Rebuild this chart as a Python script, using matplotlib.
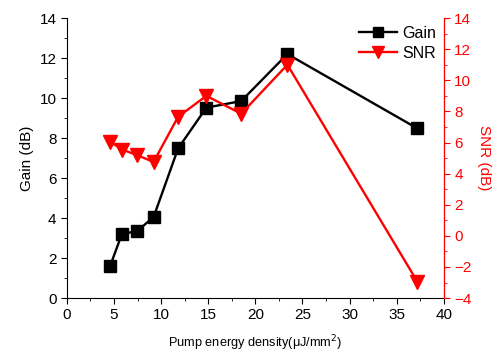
import numpy as np
import matplotlib.pyplot as plt
from matplotlib.ticker import MultipleLocator

plt.rcParams['font.family'] = ['Liberation Sans', 'DejaVu Sans']

pump = [4.6, 5.85, 7.4, 9.2, 11.8, 14.8, 18.5, 23.4, 37.2]
gain = [1.62, 3.22, 3.33, 4.05, 7.48, 9.52, 9.85, 12.2, 8.48]
snr = [6.05, 5.55, 5.2, 4.75, 7.65, 9.0, 7.85, 11.0, -2.95]

fig = plt.figure(figsize=(4.92, 3.54), dpi=100)
ax = fig.add_axes([0.136, 0.158, 0.766, 0.791])
ax2 = ax.twinx()

l1, = ax.plot(pump, gain, color='black', marker='s', ms=9, lw=1.7,
              label='Gain')
l2, = ax2.plot(pump, snr, color='red', marker='v', ms=10.5, lw=1.7,
               label='SNR')

ax.set_xlim(0, 40)
ax.set_ylim(0, 14)
ax2.set_ylim(-4, 14)
ax.xaxis.set_major_locator(MultipleLocator(5))
ax.xaxis.set_minor_locator(MultipleLocator(2.5))
ax.yaxis.set_major_locator(MultipleLocator(2))
ax.yaxis.set_minor_locator(MultipleLocator(1))
ax2.yaxis.set_major_locator(MultipleLocator(2))
ax2.yaxis.set_minor_locator(MultipleLocator(1))

for a in (ax, ax2):
    a.spines['top'].set_visible(False)
ax2.spines['left'].set_visible(False)
ax2.spines['bottom'].set_visible(False)
ax2.spines['right'].set_color('red')

ax.tick_params(which='both', direction='out', labelsize=11)
ax.tick_params(which='major', length=4)
ax.tick_params(which='minor', length=2.5)
ax2.tick_params(which='both', direction='out', colors='red', labelsize=11)
ax2.tick_params(which='major', length=4)
ax2.tick_params(which='minor', length=2.5)

ax.set_ylabel('Gain (dB)', fontsize=11)
ax2.set_ylabel('SNR (dB)', fontsize=11, color='red', rotation=270, labelpad=14)
ax.set_xlabel('Pump energy density(μJ/mm$^2$)', fontsize=9.2, labelpad=8)

ax.legend([l1, l2], ['Gain', 'SNR'], loc='upper right', frameon=False,
          fontsize=11.5, handlelength=2.4, borderaxespad=0.1,
          handletextpad=0.3, labelspacing=0.3, markerscale=0.85)

fig.savefig('out.png', dpi=100)
